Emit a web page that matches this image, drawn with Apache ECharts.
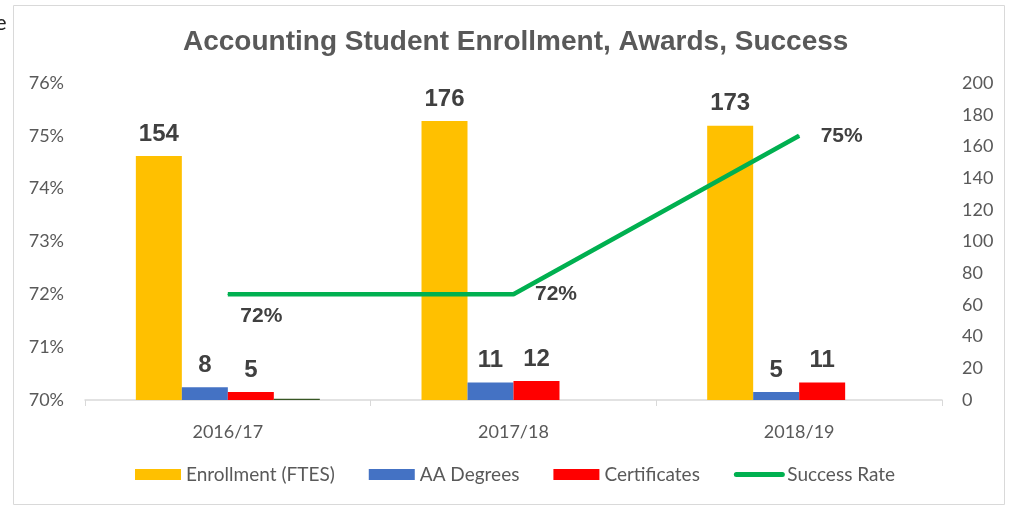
<!DOCTYPE html>
<html>
<head>
<meta charset="utf-8">
<script src="https://cdn.jsdelivr.net/npm/echarts@6/dist/echarts.min.js"></script>
<style>
  html, body { margin: 0; padding: 0; background: #fff; }
  #main { width: 1009px; height: 509px; }
</style>
</head>
<body>
<div id="main"></div>
<script>
var years = ['2016/17', '2017/18', '2018/19']
var enrollment = [154, 176, 173]
var aaDegrees = [8, 11, 5]
var certificates = [5, 12, 11]
var successRate = [72, 72, 75]
// small stray bar in the first group only
var extraBar = [0.72, null, null]

var leftTicks = [70, 76, 1]
var rightTicks = [0, 200, 20]

var axisFont = 'Lato, "Open Sans", sans-serif'
var boldFont = '"Liberation Sans", Arial, sans-serif'

var myChart = echarts.init(document.getElementById('main'))

var barLabel = {
    show: true,
    position: 'top',
    distance: 10,
    color: '#404040',
    fontSize: 24,
    fontWeight: 'bold',
    fontFamily: boldFont
}

var option = {
    animation: false,
    title: {
        text: 'Accounting Student Enrollment, Awards, Success',
        left: 178,
        top: 23,
        textStyle: {
            color: '#595959',
            fontSize: 28,
            fontWeight: 'bold',
            fontFamily: boldFont
        }
    },
    graphic: [
        {
            type: 'rect',
            shape: { x: 13.5, y: 5.5, width: 991, height: 499 },
            style: { fill: 'none', stroke: '#d9d9d9', lineWidth: 1 }
        },
        {
            type: 'text',
            left: -5,
            top: 12,
            style: { text: 'e', fill: '#222', font: '22px ' + axisFont }
        }
    ],
    legend: {
        bottom: 20,
        left: 130,
        itemWidth: 46,
        itemHeight: 11,
        itemGap: 34,
        textStyle: {
            color: '#595959',
            fontSize: 19,
            fontFamily: axisFont
        },
        data: [
            { name: 'Enrollment (FTES)', icon: 'rect' },
            { name: 'AA Degrees', icon: 'rect' },
            { name: 'Certificates', icon: 'rect' },
            {
                name: 'Success Rate',
                itemStyle: { opacity: 0 },
                lineStyle: { width: 5, cap: 'round' }
            }
        ]
    },
    grid: {
        left: 85,
        right: 67,
        top: 83,
        bottom: 109
    },
    xAxis: {
        type: 'category',
        data: years,
        axisLine: { lineStyle: { color: '#d9d9d9', width: 1.5 } },
        axisTick: { show: true, length: 6, lineStyle: { color: '#d9d9d9' } },
        axisLabel: {
            color: '#595959',
            fontSize: 18,
            fontFamily: axisFont,
            margin: 23
        }
    },
    yAxis: [
        {
            type: 'value',
            min: leftTicks[0],
            max: leftTicks[1],
            interval: leftTicks[2],
            position: 'left',
            axisLine: { show: false },
            axisTick: { show: false },
            splitLine: { show: false },
            axisLabel: {
                color: '#595959',
                fontSize: 18,
                fontFamily: axisFont,
                margin: 21,
                formatter: '{value}%'
            }
        },
        {
            type: 'value',
            min: rightTicks[0],
            max: rightTicks[1],
            interval: rightTicks[2],
            position: 'right',
            axisLine: { show: false },
            axisTick: { show: false },
            splitLine: { show: false },
            axisLabel: {
                color: '#595959',
                fontSize: 18,
                fontFamily: axisFont,
                margin: 20
            }
        }
    ],
    series: [
        {
            name: 'Enrollment (FTES)',
            type: 'bar',
            yAxisIndex: 1,
            data: enrollment,
            barGap: 0,
            barCategoryGap: '35.6%',
            itemStyle: { color: '#ffc000' },
            label: barLabel
        },
        {
            name: 'AA Degrees',
            type: 'bar',
            yAxisIndex: 1,
            data: aaDegrees,
            itemStyle: { color: '#4472c4' },
            label: barLabel
        },
        {
            name: 'Certificates',
            type: 'bar',
            yAxisIndex: 1,
            data: certificates,
            itemStyle: { color: '#ff0000' },
            label: barLabel
        },
        {
            name: 'extra',
            type: 'bar',
            yAxisIndex: 1,
            data: extraBar,
            barMinHeight: 1,
            itemStyle: { color: '#375623' }
        },
        {
            name: 'Success Rate',
            type: 'line',
            yAxisIndex: 0,
            data: successRate.map(function (v, i) {
                var item = { value: v }
                if (i === 0) {
                    item.label = { offset: [-9, 22] }
                }
                return item
            }),
            symbol: 'circle',
            symbolSize: 1,
            z: 5,
            lineStyle: { color: '#00b050', width: 4.5 },
            itemStyle: { color: '#00b050' },
            label: {
                show: true,
                position: 'right',
                distance: 21,
                color: '#404040',
                fontSize: 21,
                fontWeight: 'bold',
                fontFamily: boldFont,
                formatter: function (p) { return p.value + '%' }
            }
        }
    ]
}

myChart.setOption(option)
</script>
</body>
</html>
